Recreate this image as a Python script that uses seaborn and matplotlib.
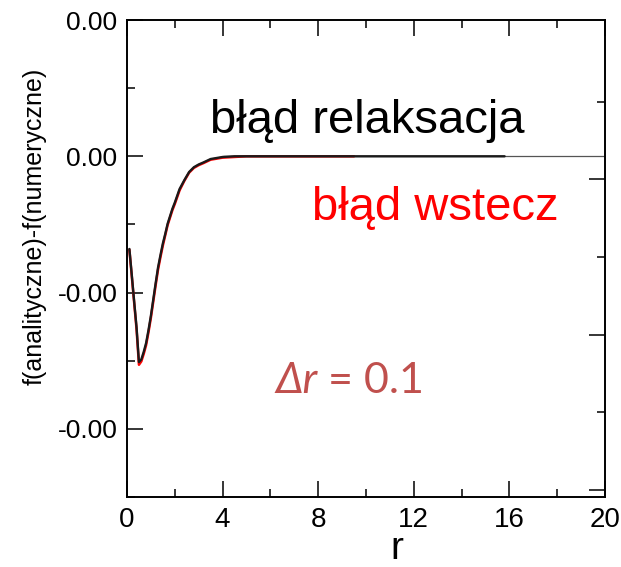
import matplotlib
matplotlib.use("Agg")
import matplotlib.pyplot as plt
import numpy as np
import pandas as pd
import seaborn as sns
from matplotlib.ticker import FixedLocator, FuncFormatter, MultipleLocator

# Error profiles f(analytic) - f(numeric), values in units of 1e-4
UNIT = 1e-4

r_relax = [0.1, 0.2, 0.3, 0.4, 0.5, 0.6, 0.7, 0.8, 0.9, 1.0,
           1.1, 1.2, 1.3, 1.4, 1.5, 1.6, 1.7, 1.8, 1.9, 2.0,
           2.2, 2.4, 2.6, 2.8, 3.0, 3.2, 3.5, 4.0, 4.5, 5.0,
           6.0, 7.0, 8.0, 9.0, 10.0, 11.0, 12.0, 13.0, 14.0, 15.0, 15.8]
err_relax = [-1.36, -1.74, -2.13, -2.51, -3.02, -2.98, -2.87, -2.74, -2.55, -2.34,
             -2.10, -1.86, -1.63, -1.45, -1.28, -1.14, -0.99, -0.88, -0.77, -0.68,
             -0.48, -0.35, -0.23, -0.16, -0.12, -0.09, -0.04, -0.01, 0.0, 0.0,
             0.0, 0.0, 0.0, 0.0, 0.0, 0.0, 0.0, 0.0, 0.0, 0.0, 0.0]

r_back = [0.1, 0.2, 0.3, 0.4, 0.5, 0.6, 0.7, 0.8, 0.9, 1.0,
          1.1, 1.2, 1.3, 1.4, 1.5, 1.6, 1.7, 1.8, 1.9, 2.0,
          2.2, 2.4, 2.6, 2.8, 3.0, 3.2, 3.5, 4.0, 4.5, 5.0,
          6.0, 7.0, 8.0, 9.0, 9.5]
err_back = [-1.37, -1.76, -2.15, -2.54, -3.06, -3.01, -2.90, -2.77, -2.58, -2.37,
            -2.13, -1.89, -1.66, -1.48, -1.31, -1.16, -1.01, -0.90, -0.79, -0.70,
            -0.50, -0.36, -0.24, -0.17, -0.13, -0.10, -0.05, -0.02, -0.01, 0.0,
            0.0, 0.0, 0.0, 0.0, 0.0]

y_major = [2.0, 0.0, -2.0, -4.0]
y_minor = [1.0, -1.0, -3.0, -5.0]

df_relax = pd.DataFrame({"r": r_relax, "err": np.array(err_relax) * UNIT})
df_back = pd.DataFrame({"r": r_back, "err": np.array(err_back) * UNIT})

sns.set_theme(style="ticks")
plt.rcParams["font.family"] = ["Liberation Sans", "DejaVu Sans"]
plt.rcParams["axes.unicode_minus"] = False

fig = plt.figure(figsize=(6.21, 5.67), dpi=100)
ax = fig.add_axes([0.2045, 0.1235, 0.7697, 0.8412])

# zero baseline continuing to the right edge
ax.hlines(0.0, 4.0, 20.0, color="#555555", lw=0.9, zorder=1)

sns.lineplot(data=df_back, x="r", y="err", ax=ax, color="#ff0000", lw=1.8,
             sort=False, estimator=None, zorder=2)
sns.lineplot(data=df_relax, x="r", y="err", ax=ax, color="#1a1a1a", lw=1.7,
             sort=False, estimator=None, zorder=3)

ax.set_xlim(0, 20)
ax.set_ylim(-5.0 * UNIT, 2.0 * UNIT)

ax.xaxis.set_major_locator(MultipleLocator(4))
ax.xaxis.set_minor_locator(MultipleLocator(2))
ax.yaxis.set_major_locator(FixedLocator([v * UNIT for v in y_major]))
ax.yaxis.set_minor_locator(FixedLocator([v * UNIT for v in y_minor]))
ax.yaxis.set_major_formatter(FuncFormatter(lambda v, _: f"{v:.2f}"))

ax.tick_params(axis="x", which="both", direction="in", top=True, bottom=True,
               labelsize=20, pad=7, color="black", labelcolor="black")
ax.tick_params(axis="y", which="both", direction="in", left=True, right=False,
               labelsize=19, pad=7, color="black", labelcolor="black")
ax.tick_params(which="major", length=11.5, width=1.1)
ax.tick_params(which="minor", length=6, width=1.1)

for s in ax.spines.values():
    s.set_visible(True)
    s.set_color("black")
    s.set_linewidth(1.4)

# tick marks on the right edge
ax2 = ax.twinx()
ax2.set_ylim(-0.09, 6.05)
ax2.yaxis.set_major_locator(FixedLocator([0, 2, 4]))
ax2.yaxis.set_minor_locator(FixedLocator([1, 3, 5]))
ax2.tick_params(axis="y", which="both", direction="in", right=True,
                labelright=False, color="black")
ax2.tick_params(which="major", length=11.5, width=1.1)
ax2.tick_params(which="minor", length=6, width=1.1)
for s in ax2.spines.values():
    s.set_visible(False)

ax.set_xlabel("r", fontsize=28, color="black")
ax.set_ylabel("f(analityczne)-f(numeryczne)", fontsize=18, color="black")
ax.xaxis.set_label_coords(0.565, -0.13)
ax.xaxis.label.set_va("baseline")
ax.yaxis.set_label_coords(-0.168, 0.568)

ax.text(0.502, 0.763, "błąd relaksacja", transform=ax.transAxes,
        fontsize=34, color="black", ha="center", va="baseline")
ax.text(0.644, 0.581, "błąd wstecz", transform=ax.transAxes,
        fontsize=34, color="#ff0000", ha="center", va="baseline")
t1 = ax.text(0.31, 0.218, "Δr", transform=ax.transAxes, fontsize=31,
             color="#c0504d", family="Lato", style="italic", va="baseline")
ax.annotate(" = 0.1", xy=(1, 0), xycoords=t1, fontsize=31, color="#c0504d",
            family="Lato", va="bottom")

fig.savefig("out.png", dpi=100)
